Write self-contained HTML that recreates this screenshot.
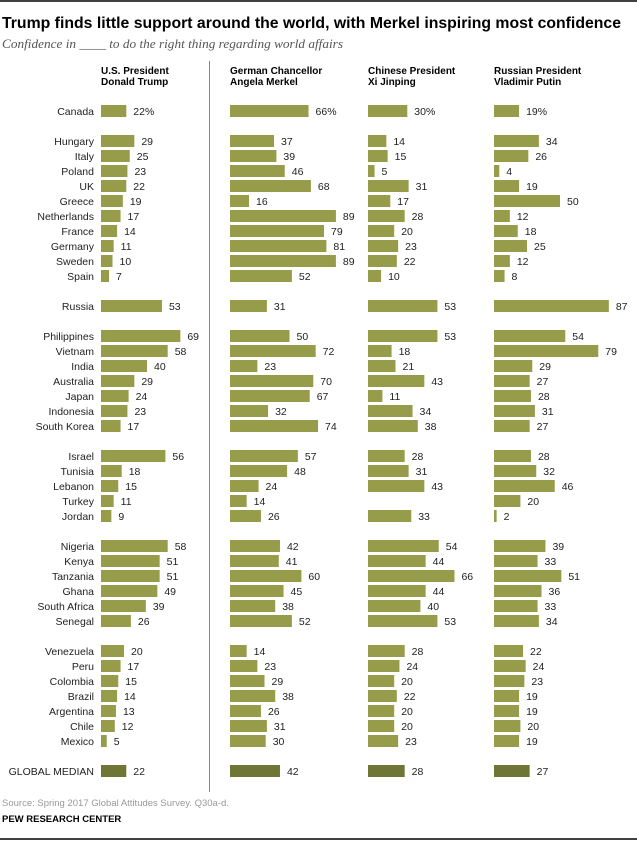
<!DOCTYPE html>
<html><head><meta charset="utf-8"><style>
body{margin:0;background:#fff;font-family:"Liberation Sans",Arial,sans-serif;}
#c{position:relative;width:637px;height:841px;overflow:hidden;}
svg text{font-family:"Liberation Sans",Arial,sans-serif;}
</style></head><body>
<div id="c">
<svg id="s" width="637" height="841">
<line x1="0" y1="1" x2="637" y2="1" stroke="#000" stroke-width="1.5"/>
<line x1="0" y1="839" x2="637" y2="839" stroke="#000" stroke-width="1.5"/>
<text x="2" y="28" font-size="16" font-weight="bold" fill="#000" textLength="619" lengthAdjust="spacingAndGlyphs">Trump finds little support around the world, with Merkel inspiring most confidence</text>
<text x="2" y="48" font-size="12.5" font-style="italic" fill="#555" textLength="341" lengthAdjust="spacingAndGlyphs" style="font-family:'Liberation Serif',serif">Confidence in ____ to do the right thing regarding world affairs</text>
<line x1="209.5" y1="61" x2="209.5" y2="792" stroke="#888" stroke-width="1"/>
<g id="g"></g>
<text x="2" y="806" font-size="9.5" fill="#999">Source: Spring 2017 Global Attitudes Survey. Q30a-d.</text>
<text x="2" y="822" font-size="9.5" font-weight="bold" fill="#000">PEW RESEARCH CENTER</text>
</svg></div>
<script>
const countries=["Canada",null,"Hungary","Italy","Poland","UK","Greece","Netherlands","France","Germany","Sweden","Spain",null,"Russia",null,"Philippines","Vietnam","India","Australia","Japan","Indonesia","South Korea",null,"Israel","Tunisia","Lebanon","Turkey","Jordan",null,"Nigeria","Kenya","Tanzania","Ghana","South Africa","Senegal",null,"Venezuela","Peru","Colombia","Brazil","Argentina","Chile","Mexico",null,"GLOBAL MEDIAN"];
const trump=[22,null,29,25,23,22,19,17,14,11,10,7,null,53,null,69,58,40,29,24,23,17,null,56,18,15,11,9,null,58,51,51,49,39,26,null,20,17,15,14,13,12,5,null,22];
const merkel=[66,null,37,39,46,68,16,89,79,81,89,52,null,31,null,50,72,23,70,67,32,74,null,57,48,24,14,26,null,42,41,60,45,38,52,null,14,23,29,38,26,31,30,null,42];
const xi=[30,null,14,15,5,31,17,28,20,23,22,10,null,53,null,53,18,21,43,11,34,38,null,28,31,43,null,33,null,54,44,66,44,40,53,null,28,24,20,22,20,20,23,null,28];
const putin=[19,null,34,26,4,19,50,12,18,25,12,8,null,87,null,54,79,29,27,28,31,27,null,28,32,46,20,2,null,39,33,51,36,33,34,null,22,24,23,19,19,20,19,null,27];
const series=[trump,merkel,xi,putin];
const headers=[["U.S. President","Donald Trump"],["German Chancellor","Angela Merkel"],["Chinese President","Xi Jinping"],["Russian President","Vladimir Putin"]];
const origins=[101,230,368,494];
const scales=[1.15,1.19,1.31,1.32];
const NS="http://www.w3.org/2000/svg";
const g=document.getElementById('g');
function y(i){return 111+15*i;}
function x(col,v){return origins[col]+v*scales[col];}
function mk(t,a){const e=document.createElementNS(NS,t);for(const k in a)e.setAttribute(k,a[k]);g.appendChild(e);return e;}
headers.forEach((h,c)=>{h.forEach((ln,j)=>{const t=mk('text',{x:origins[c],y:74+j*11,'font-size':10,'font-weight':'bold',fill:'#000'});


t.textContent=ln;});});
countries.forEach((name,i)=>{
 if(name===null)return;
 const glob=name==="GLOBAL MEDIAN";
 const lab=mk('text',{x:94,y:y(i)+4,'font-size':10.5,'text-anchor':'end',fill:'#222'});
 
 
 lab.textContent=name;
 series.forEach((s,c)=>{
  const v=s[i];if(v===null||v===undefined)return;
  const r=mk('rect',{x:origins[c],y:y(i)-6,width:x(c,v)-origins[c],height:12,fill:glob?'#6f7535':'#969c49'});
  
  
  const t=mk('text',{x:x(c,v)+7,y:y(i)+4,'font-size':10.5,fill:'#222'});
  
  
  t.textContent=v+(i===0?'%':'');
 });
});
</script>
</body></html>
